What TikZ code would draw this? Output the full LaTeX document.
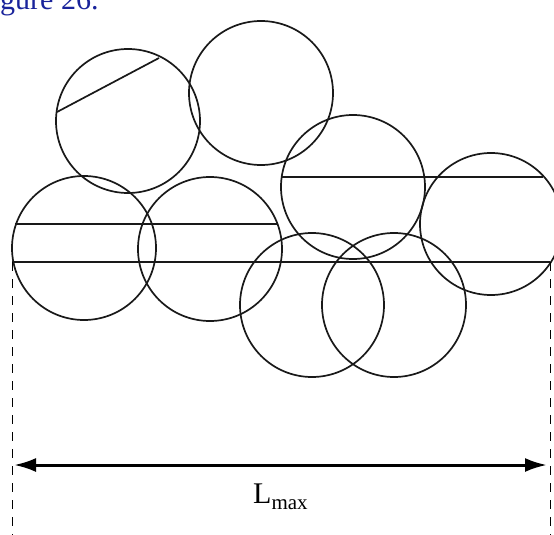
\documentclass[tikz,border=0pt]{standalone}
\usepackage{fontspec}
\setmainfont{Liberation Serif}
\usetikzlibrary{arrows.meta}
\definecolor{capblue}{RGB}{25,35,155}
\tikzset{
  grain/.style={draw=black!90, line width=1.7pt},
  chord/.style={draw=black!90, line width=1.7pt},
  guide/.style={draw=black, line width=1.6pt, dash pattern=on 9pt off 8pt},
  dimarrow/.style={draw=black, line width=3pt, {Latex[length=22pt,width=14pt]}-{Latex[length=22pt,width=14pt]}}
}
\begin{document}
\begin{tikzpicture}[x=1pt,y=-1pt]
\useasboundingbox (0,0) rectangle (554,535);
\clip (0,0) rectangle (554,535);
\node[anchor=base west, inner sep=0pt, text=capblue, font=\rmfamily\fontsize{30}{33}\selectfont] (cap) at (-25,9.5) {Figure 26.};
% particles
\draw[grain] (128,121) circle[radius=72];
\draw[grain] (261,93) circle[radius=72];
\draw[grain] (353,187) circle[radius=72];
\draw[grain] (491,224) circle[radius=71];
\draw[grain] (84,248) circle[radius=72];
\draw[grain] (210,249) circle[radius=72];
\draw[grain] (312,305) circle[radius=72];
\draw[grain] (394,305) circle[radius=72];
% chords
\draw[chord] (57,112) -- (159,58);
\draw[chord] (15,224) -- (278,224);
\draw[chord] (282,177) -- (543,177);
\draw[chord] (12,262) -- (550,262);
% guides
\coordinate (gl1) at (12.5,262);
\coordinate (gl2) at (12.5,540);
\coordinate (gr1) at (550.5,262);
\coordinate (gr2) at (550.5,540);
\draw[guide] (gl1) -- (gl2);
\draw[guide] (gr1) -- (gr2);
\coordinate (al) at (14,465);
\coordinate (ar) at (547,465);
\draw[dimarrow] (al) -- (ar);
\node[anchor=base west, inner sep=0pt, font=\rmfamily\fontsize{30}{32}\selectfont] (lmax) at (253,503) {L\raisebox{-6pt}{\fontsize{21}{24}\selectfont max}};
\end{tikzpicture}
\end{document}
